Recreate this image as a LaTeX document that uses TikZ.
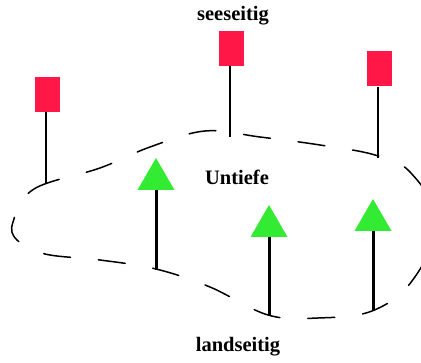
\documentclass[tikz,border=0pt]{standalone}
\usepackage{fontspec}
\setmainfont{Liberation Serif}
\begin{document}
\begin{tikzpicture}[x=1pt,y=-1pt,
  flag/.style={fill=flagred,draw=none,minimum width=25pt,minimum height=35pt,inner sep=0pt},
  thinpole/.style={line width=1.4pt},
  thickpole/.style={line width=3pt},
  tri/.style={fill=trigreen,draw=none},
  label/.style={font=\bfseries\fontsize{20.5}{24}\selectfont,inner sep=0pt},
  shore/.style={line width=1.5pt,dash pattern=on 27pt off 28pt,line cap=round}]
\definecolor{flagred}{RGB}{255,23,72}
\definecolor{trigreen}{RGB}{50,235,50}
\useasboundingbox (0,0) rectangle (421,363);
\fill[white] (0,0) rectangle (421,363);
\begin{scope}
\clip (0,0) rectangle (421,363);
\draw[shore] plot[smooth cycle,tension=0.6] coordinates {
 (13,222) (34,189) (100,168) (150,147) (205,131) (260,137) (320,145) (375,155)
 (410,172) (438,222) (412,281) (372,311) (318,318) (268,315) (210,287)
 (156,269) (100,260) (45,254) (17,240)};
\end{scope}
% flags (seeseitig)
\node[flag] (f1) at (47.5,94.5) {};
\node[flag] (f2) at (231.5,48.5) {};
\node[flag] (f3) at (379,69) {};
\coordinate (p1) at (46,184);
\coordinate (p2) at (230,137);
\coordinate (p3) at (378,158);
\draw[thinpole] (f1.south -| p1) -- (p1);
\draw[thinpole] (f2.south -| p2) -- (p2);
\draw[thinpole] (f3.south -| p3) -- (p3);
% triangles (landseitig)
\coordinate (t1) at (156,158); \coordinate (b1) at (156,190); \coordinate (e1) at (156,270);
\coordinate (t2) at (269,205); \coordinate (b2) at (269,237); \coordinate (e2) at (269,316);
\coordinate (t3) at (373,199); \coordinate (b3) at (373,231); \coordinate (e3) at (373,311);
\draw[thickpole] (b1) -- (e1);
\draw[thickpole] (b2) -- (e2);
\draw[thickpole] (b3) -- (e3);
\fill[tri] (t1) -- ([xshift=-18.5pt]b1) -- ([xshift=18.5pt]b1) -- cycle;
\fill[tri] (t2) -- ([xshift=-18.5pt]b2) -- ([xshift=18.5pt]b2) -- cycle;
\fill[tri] (t3) -- ([xshift=-18.5pt]b3) -- ([xshift=18.5pt]b3) -- cycle;
% labels
\node[label] (see) at (233,16) {seeseitig};
\node[label] (unt) at (237,177) {Untiefe};
\node[label] (land) at (238,347) {landseitig};
\end{tikzpicture}
\end{document}
